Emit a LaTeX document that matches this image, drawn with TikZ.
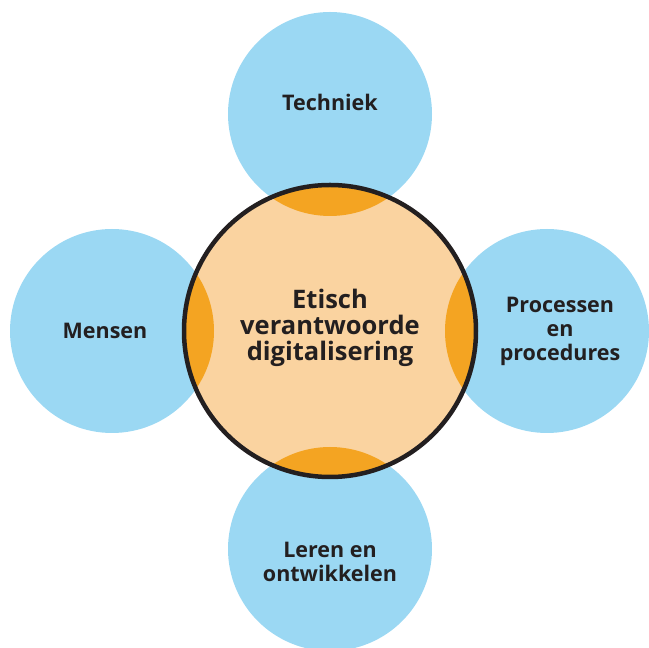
\documentclass[tikz,border=0pt]{standalone}
\usepackage{fontspec}
\setmainfont{Open Sans}
\usetikzlibrary{positioning}
\definecolor{skyblue}{HTML}{9BD8F3}
\definecolor{peach}{HTML}{FAD3A0}
\definecolor{amber}{HTML}{F4A422}
\definecolor{ink}{HTML}{231F20}
\tikzset{
  area/.style={circle,fill=skyblue,draw=none,minimum size=204pt,inner sep=0pt},
  lbl/.style={font=\fontsize{21.5}{24}\selectfont\bfseries,text=ink,align=center},
}

\begin{document}
\begin{tikzpicture}[x=1pt,y=1pt]
\useasboundingbox (0,0) rectangle (649,648);
\node[area] (T) at (330,534) {};
\node[area] (L) at (112,317) {};
\node[area] (R) at (547,317) {};
\node[area] (B) at (330,99) {};
\node[circle,fill=peach,minimum size=292pt,inner sep=0pt] (C) at (330,317) {};
\begin{scope}
\clip (C.center) circle (146);
\fill[amber] (T.center) circle (102);
\fill[amber] (L.center) circle (102);
\fill[amber] (R.center) circle (102);
\fill[amber] (B.center) circle (102);
\end{scope}
\draw[ink,line width=4.5pt] (C.center) circle (146);

\node[lbl] (tT) at ([yshift=12pt]T.center) {Techniek};
\node[lbl] (tL) at ([xshift=-7pt]L.center) {Mensen};
\node[lbl] (tR) at ([xshift=13pt]R.center) {Processen\\en\\procedures};
\node[lbl] (tB) at ([yshift=-13pt]B.center) {Leren en\\ontwikkelen};
\node[lbl,font=\fontsize{25.5}{26}\selectfont\bfseries] (tC) at ([yshift=3pt]C.center) {Etisch\\verantwoorde\\digitalisering};
\end{tikzpicture}
\end{document}
